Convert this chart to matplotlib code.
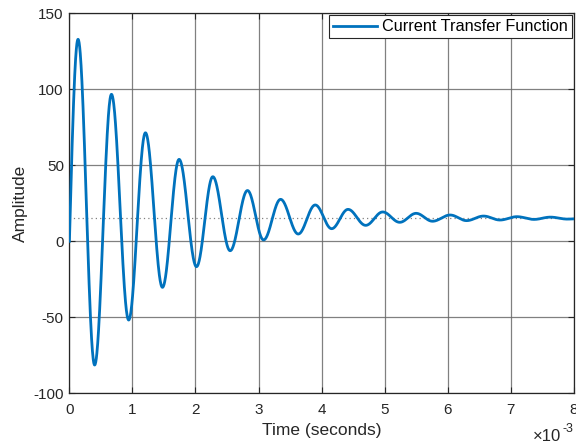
import numpy as np
import matplotlib
matplotlib.use("Agg")
import matplotlib.pyplot as plt

plt.rcParams['font.family'] = ['Liberation Sans', 'DejaVu Sans']

# Extrema of the response (time in ms, amplitude)
ext_time_ms = [0.000, 0.137, 0.400, 0.667, 0.940, 1.206, 1.476, 1.740, 2.016,
               2.275, 2.550, 2.825, 3.080, 3.350, 3.630, 3.900, 4.160, 4.420,
               4.700, 4.970, 5.240, 5.500, 5.760, 6.040, 6.300, 6.570, 6.830,
               7.100, 7.370, 7.630, 7.900, 8.000]
ext_value = [0.0, 132.9, -81.4, 96.7, -51.8, 71.4, -30.3, 53.9, -16.7,
             42.5, -6.2, 33.4, 0.9, 27.6, 4.8, 23.9, 8.3, 21.0,
             10.5, 19.3, 12.5, 18.4, 13.2, 17.3, 13.6, 16.6, 14.0,
             16.2, 14.4, 15.9, 14.6, 14.75]
final_value = 15.0

x_ticks = [0, 1, 2, 3, 4, 5, 6, 7, 8]
y_ticks = [-100, -50, 0, 50, 100, 150]
legend_label = "Current Transfer Function"

# Render smooth curve between extrema
ts, ys = [], []
for i in range(len(ext_time_ms) - 1):
    t0, t1 = ext_time_ms[i], ext_time_ms[i + 1]
    v0, v1 = ext_value[i], ext_value[i + 1]
    s = np.linspace(0, 1, 60, endpoint=False)
    if i == 0:
        shape = np.sin(np.pi / 2 * s)
    else:
        shape = (1 - np.cos(np.pi * s)) / 2
    ts.append(t0 + (t1 - t0) * s)
    ys.append(v0 + (v1 - v0) * shape)
ts.append([ext_time_ms[-1]])
ys.append([ext_value[-1]])
t = np.concatenate(ts)
y = np.concatenate(ys)

fig = plt.figure(figsize=(5.76, 4.45), dpi=100)
ax = fig.add_axes([0.1205, 0.1162, 0.8755, 0.8539])

ax.axhline(final_value, color='#808080', lw=0.9, ls=(0, (1, 2.5)), zorder=1)
ax.plot(t, y, color='#0072BD', lw=2.0, label=legend_label, zorder=3)

ax.set_xlim(0, 8)
ax.set_ylim(-100, 150)
ax.set_xticks(x_ticks)
ax.set_yticks(y_ticks)
ax.set_xticklabels([str(v) for v in x_ticks])
ax.set_yticklabels([str(v) for v in y_ticks])
ax.grid(True, color='#6a6a6a', lw=0.9, alpha=0.85)
ax.set_axisbelow(True)
ax.tick_params(direction='in', top=True, right=True, length=4, width=0.8,
               labelsize=11, colors='#262626', labelcolor='#262626')
ax.tick_params(axis='x', pad=7)
ax.tick_params(axis='y', pad=4)
for sp in ax.spines.values():
    sp.set_color('#262626')
    sp.set_linewidth(0.9)

ax.set_xlabel('Time (seconds)', fontsize=12.5, color='#262626', labelpad=4)
ax.set_ylabel('Amplitude', fontsize=12.5, color='#262626', labelpad=4)

# x10^-3 multiplier at bottom right
ax.annotate('\u00d710', xy=(1.0, 0), xycoords='axes fraction',
            xytext=(-9, -34), textcoords='offset points',
            ha='right', va='baseline', fontsize=12, color='#262626')
ax.annotate('-3', xy=(1.0, 0), xycoords='axes fraction',
            xytext=(0, -28), textcoords='offset points',
            ha='right', va='baseline', fontsize=9, color='#262626')

leg = ax.legend(loc='upper right', fontsize=11.7, fancybox=False, framealpha=1,
                edgecolor='#262626', borderaxespad=0.12, handlelength=2.7,
                handletextpad=0.3, borderpad=0.25)
leg.get_frame().set_linewidth(0.8)

fig.savefig('out.png', dpi=100)
